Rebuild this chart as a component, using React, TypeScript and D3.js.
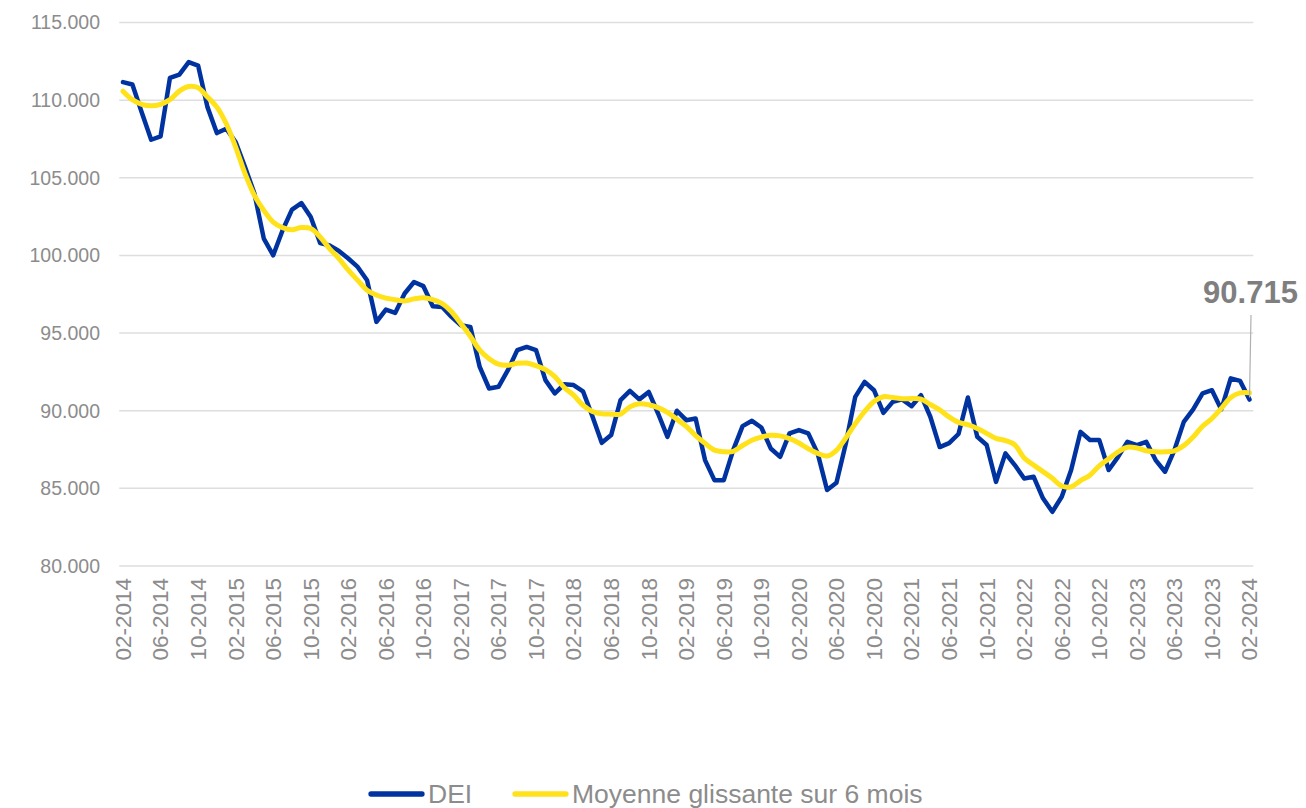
import React, { useEffect, useRef } from "react";
import * as d3 from "d3";

// valeurs mensuelles 02-2014 -> 02-2024
const dei = [
  111160, 111010, 109200, 107450, 107670, 111440, 111650, 112450, 112230, 109550,
  107880, 108160, 107300, 105690, 103990, 101080, 100010, 101620, 102950, 103370,
  102470, 100800, 100650, 100290, 99800, 99260, 98400, 95720, 96510, 96300,
  97550, 98290, 98020, 96730, 96680, 96040, 95500, 95400, 92820, 91430,
  91540, 92610, 93900, 94110, 93900, 91970, 91110, 91700, 91650, 91250,
  89650, 87930, 88430, 90680, 91280, 90730, 91210, 89820, 88320, 90000,
  89390, 89500, 86820, 85530, 85530, 87460, 89010, 89350, 88920, 87570,
  87030, 88540, 88750, 88540, 87250, 84890, 85360, 87890, 90890, 91860,
  91320, 89860, 90570, 90730, 90290, 91000, 89610, 87660, 87910, 88500,
  90850, 88320, 87790, 85420, 87250, 86500, 85640, 85750, 84360, 83490,
  84460, 86180, 88640, 88110, 88110, 86180, 87030, 88000, 87790, 88000,
  86820, 86070, 87460, 89280, 90080, 91110, 91320, 90080, 92080, 91920,
  90715,
];

const moyenne = [
  110580, 110030, 109730, 109640, 109730, 110030, 110580, 110880, 110800, 110200,
  109550, 108480, 106980, 105270, 103870, 102900, 102150, 101790, 101660, 101800,
  101730, 101190, 100440, 99800, 99050, 98400, 97760, 97450, 97250, 97150,
  97070, 97200, 97280, 97150, 96900, 96370, 95600, 94800, 93900, 93350,
  93000, 92930, 93050, 93070, 92900, 92650, 92200, 91500, 91000, 90350,
  89950, 89800, 89780, 89780, 90250, 90450, 90380, 90200, 89900, 89450,
  88990, 88400, 87900, 87460, 87360, 87380, 87760, 88100, 88300, 88420,
  88380, 88200, 87920, 87550, 87250, 87080, 87450, 88250, 89150, 89950,
  90600, 90900, 90850, 90770, 90780, 90750, 90400, 90050, 89600, 89250,
  89100, 88860, 88540, 88220, 88080, 87800, 86950, 86500, 86080, 85650,
  85150, 85100, 85500, 85850, 86450, 86900, 87350, 87650, 87600, 87420,
  87350, 87350, 87420, 87750, 88300, 89000, 89500, 90150, 90850, 91150,
  91150,
];

const yTicks = [80000, 85000, 90000, 95000, 100000, 105000, 110000, 115000];

const xTickLabels = [
  "02-2014", "06-2014", "10-2014", "02-2015", "06-2015", "10-2015",
  "02-2016", "06-2016", "10-2016", "02-2017", "06-2017", "10-2017",
  "02-2018", "06-2018", "10-2018", "02-2019", "06-2019", "10-2019",
  "02-2020", "06-2020", "10-2020", "02-2021", "06-2021", "10-2021",
  "02-2022", "06-2022", "10-2022", "02-2023", "06-2023", "10-2023",
  "02-2024",
];

const seriesNames = ["DEI", "Moyenne glissante sur 6 mois"];

// categories : un mois par point
const fmtMonth = d3.timeFormat("%m-%Y");
const months = d3.timeMonths(new Date(2014, 1, 1), new Date(2024, 2, 1)).map(fmtMonth);

const BLUE = "#0033a0";
const YELLOW = "#ffe21a";
const GREY = "#8c8c8c";
const FONT = "'Liberation Sans', Arial, sans-serif";

export default function App() {
  const svgRef = useRef<SVGSVGElement>(null);

  useEffect(() => {
    const width = 1306;
    const height = 808;
    const svg = d3.select(svgRef.current);
    svg.selectAll("*").remove();
    svg.attr("width", width).attr("height", height).style("background", "white");

    const x = d3.scalePoint<string>().domain(months).range([123, 1249.5]);
    const y = d3.scaleLinear().domain([80000, 115000]).range([566, 22.5]);
    const step = x.step();
    const fmt = d3.formatLocale({ decimal: ",", thousands: ".", grouping: [3], currency: ["", ""] }).format(",.0f");

    // grille horizontale
    svg.append("g")
      .selectAll("line")
      .data(yTicks)
      .join("line")
      .attr("x1", x(months[0])! - step * 0.4)
      .attr("x2", x(months[months.length - 1])! + step * 0.4)
      .attr("y1", (d) => y(d))
      .attr("y2", (d) => y(d))
      .attr("stroke", "#dedede")
      .attr("stroke-width", 1.5);

    // axe Y
    svg.append("g")
      .selectAll("text")
      .data(yTicks)
      .join("text")
      .attr("x", 100)
      .attr("y", (d) => y(d))
      .attr("dy", "0.35em")
      .attr("text-anchor", "end")
      .attr("font-family", FONT)
      .attr("font-size", 19.5)
      .attr("fill", GREY)
      .text((d) => fmt(d));

    // axe X (labels verticaux)
    svg.append("g")
      .selectAll("text")
      .data(xTickLabels)
      .join("text")
      .attr("transform", (d) => `translate(${x(d)}, 578) rotate(-90)`)
      .attr("dy", "0.35em")
      .attr("text-anchor", "end")
      .attr("font-family", FONT)
      .attr("font-size", 22.5)
      .attr("fill", GREY)
      .text((d) => d);

    const lineDei = d3.line<number>()
      .x((d, i) => x(months[i])!)
      .y((d) => y(d));
    const lineMoy = d3.line<number>()
      .x((d, i) => x(months[i])!)
      .y((d) => y(d))
      .curve(d3.curveCatmullRom.alpha(0.5));

    svg.append("path")
      .datum(dei)
      .attr("d", lineDei)
      .attr("fill", "none")
      .attr("stroke", BLUE)
      .attr("stroke-width", 4.5)
      .attr("stroke-linejoin", "round")
      .attr("stroke-linecap", "round");

    svg.append("path")
      .datum(moyenne)
      .attr("d", lineMoy)
      .attr("fill", "none")
      .attr("stroke", YELLOW)
      .attr("stroke-width", 5)
      .attr("stroke-linejoin", "round")
      .attr("stroke-linecap", "round");

    // etiquette derniere valeur
    const last = dei.length - 1;
    const lx = x(months[last])!;
    const ly = y(dei[last]);
    svg.append("line")
      .attr("x1", lx + 1.5)
      .attr("y1", 315)
      .attr("x2", lx)
      .attr("y2", ly - 2)
      .attr("stroke", "#b0b0b0")
      .attr("stroke-width", 1.2);
    svg.append("text")
      .attr("x", lx + 1)
      .attr("y", 303)
      .attr("text-anchor", "middle")
      .attr("font-family", FONT)
      .attr("font-weight", "bold")
      .attr("font-size", 31)
      .attr("fill", "#7f7f7f")
      .text(fmt(dei[last]));

    // legende
    const legend = svg.append("g").attr("transform", "translate(0, 794)");
    const items = [
      { name: seriesNames[0], color: BLUE, x0: 371 },
      { name: seriesNames[1], color: YELLOW, x0: 515 },
    ];
    items.forEach((it) => {
      legend.append("line")
        .attr("x1", it.x0)
        .attr("x2", it.x0 + 51)
        .attr("stroke", it.color)
        .attr("stroke-width", 5.3)
        .attr("stroke-linecap", "round");
      legend.append("text")
        .attr("x", it.x0 + 57)
        .attr("y", 9)
        .attr("font-family", FONT)
        .attr("font-size", 26.5)
        .attr("fill", GREY)
        .text(it.name);
    });
  }, []);

  return (
    <svg ref={svgRef} style={{ position: "absolute", left: 0, top: 0, display: "block" }} />
  );
}
